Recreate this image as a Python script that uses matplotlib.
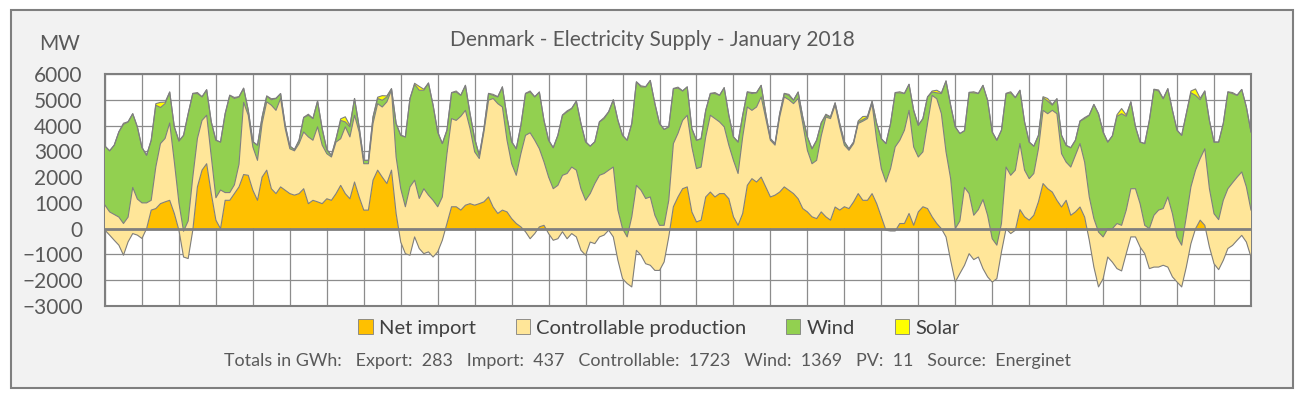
import numpy as np
import matplotlib
matplotlib.use("Agg")
import matplotlib.pyplot as plt
from matplotlib.patches import Rectangle, Patch

plt.rcParams['font.family'] = ['Lato', 'DejaVu Sans']

# 3-hourly samples, 1 Jan 2018 00:00 .. 1 Feb 2018 00:00, MW
hours = np.arange(0, 745, 3)

net_import = [
    -60, -250, -450, -640, -1030, -510, -190, -250,        # 1
    -380, 0, 720, 780, 970, 1040, 1100, 590,                # 2
    -60, -1100, -1160, -60, 1620, 2270, 2520, 1360,         # 3
    330, 0, 1100, 1100, 1360, 1620, 2100, 2070,             # 4
    1490, 1100, 2000, 2270, 1550, 1360, 1620, 1490,         # 5
    1360, 1300, 1360, 1550, 970, 1100, 1040, 970,           # 6
    1160, 1100, 1360, 1680, 1360, 1160, 1810, 1230,         # 7
    720, 720, 1880, 2270, 2000, 1750, 2270, 590,            # 8
    -520, -970, -1030, -320, -770, -970, -900, -1100,       # 9
    -900, -450, 200, 850, 850, 720, 910, 970,               # 10
    910, 970, 1040, 1230, 840, 590, 720, 650,               # 11
    390, 200, 70, -120, -390, -190, 70, 130,                # 12
    -190, -450, -390, -120, -390, -190, -320, -840,         # 13
    -1030, -520, -580, -320, -250, -60, -320, -1230,        # 14
    -1940, -2130, -2260, -840, -1030, -1360, -1420, -1620,  # 15
    -1620, -1290, -320, 850, 1230, 1550, 1620, 650,         # 16
    260, 330, 1230, 1420, 1230, 1360, 1360, 1160,           # 17
    460, 130, 590, 1680, 1940, 1810, 2000, 1620,            # 18
    1230, 1300, 1420, 1620, 1490, 1360, 1160, 780,          # 19
    650, 460, 390, 650, 460, 330, 840, 720,                 # 20
    850, 780, 1040, 1360, 1100, 1100, 1360, 970,            # 21
    460, -60, -90, -90, 200, 200, 590, 130,                 # 22
    650, 850, 780, 460, 200, 0, -320, -1230,                # 23
    -2070, -1740, -1420, -970, -1200, -1100, -1550, -1870,  # 24
    -2070, -1940, -900, 0, -190, -60, 740, 460,             # 25
    330, 520, 1040, 1750, 1550, 1420, 1100, 840,            # 26
    1100, 520, 650, 840, 450, -450, -1490, -2260,           # 27
    -1940, -1100, -1300, -1550, -1640, -970, -320, -320,    # 28
    -710, -970, -1550, -1490, -1490, -1420, -1490, -1870,   # 29
    -2070, -2260, -1490, -580, 0, 330, 130, -710,           # 30
    -1360, -1590, -1230, -770, -650, -450, -260, -520,      # 31
    -1100,
]

controllable = [
    970, 900, 1000, 1090, 1230, 960, 1790, 1400,
    1380, 1000, 380, 1620, 2330, 2460, 3000, 2010,
    1060, 1000, 1460, 2060, 1880, 1930, 1880, 1440,
    870, 1500, 300, 300, 340, 880, 2800, 2330,
    1680, 1550, 2080, 2650, 3240, 3230, 3430, 2390,
    1740, 1720, 1940, 2200, 2590, 2330, 2910, 2270,
    1750, 1680, 2000, 1810, 2590, 2400, 2590, 2520,
    1800, 1800, 2200, 2580, 2720, 3170, 3100, 2190,
    2070, 1820, 2650, 2200, 1940, 2520, 2200, 2200,
    1750, 1680, 2710, 3420, 3350, 3640, 3680, 2910,
    2070, 1750, 2710, 3750, 4210, 4260, 4000, 2780,
    2130, 1870, 2840, 3740, 4110, 3620, 3030, 2460,
    2190, 2000, 2070, 2190, 2530, 2580, 2590, 2390,
    2130, 1880, 2330, 2390, 2390, 2330, 2710, 1950,
    1940, 1810, 2720, 2520, 2520, 2530, 2650, 2140,
    1750, 1420, 1420, 2450, 2470, 2650, 2780, 2520,
    2070, 2060, 2330, 2980, 3040, 2780, 2590, 2080,
    2190, 2010, 2970, 3040, 2650, 2910, 3110, 2650,
    2200, 1940, 2910, 3490, 3510, 3490, 3890, 3300,
    2390, 2060, 2260, 2950, 3870, 3940, 3950, 3230,
    2390, 2260, 2260, 2720, 3070, 3170, 3490, 2460,
    1870, 1870, 2420, 3260, 3230, 3620, 4000, 3040,
    2130, 2130, 3300, 4710, 4840, 4460, 3300, 3170,
    2070, 2040, 3020, 2330, 1720, 1840, 2680, 2390,
    1680, 1300, 1100, 2390, 2260, 2330, 2560, 1810,
    1610, 1620, 2060, 2840, 2910, 3170, 3360, 2070,
    1480, 1870, 2190, 2460, 2130, 1680, 1880, 2130,
    1620, 1100, 1300, 1750, 1770, 1690, 1870, 1870,
    1680, 1100, 1550, 2010, 2210, 2200, 2720, 2450,
    1750, 1620, 1950, 2200, 2270, 2390, 2970, 2260,
    1940, 1940, 2330, 2320, 2430, 2450, 2460, 2140,
    1820,
]

wind = [
    2290, 2370, 2690, 3300, 3850, 3690, 2860, 2800,
    2150, 1850, 2330, 2390, 1400, 1350, 1200, 1350,
    2400, 3720, 4160, 3240, 1740, 910, 990, 1340,
    2230, 1860, 3060, 3770, 3350, 2610, 550, 200,
    200, 590, 250, 220, 210, 460, 190, 130,
    100, 50, 130, 560, 840, 840, 1000, 640,
    160, 60, 130, 710, 190, 390, 650, 200,
    130, 130, 250, 200, 260, 190, 60, 1300,
    2070, 2710, 3430, 3720, 4200, 3820, 4350, 3690,
    2900, 2070, 910, 1000, 1100, 810, 970, 580,
    510, 120, 130, 260, 120, 260, 780, 900,
    850, 1030, 1100, 1620, 1580, 1680, 2200, 1610,
    1430, 1590, 1940, 2330, 2390, 2270, 2680, 2530,
    2270, 1840, 1620, 2070, 2130, 2260, 2610, 3480,
    3620, 3750, 3620, 4010, 4010, 4330, 4520, 4330,
    3950, 3720, 2850, 2130, 1750, 1140, 1100, 710,
    1100, 1100, 1030, 840, 970, 1030, 1520, 1160,
    910, 1220, 840, 580, 650, 550, 450, 190,
    60, 60, 130, 130, 170, 130, 250, 250,
    520, 580, 780, 500, 70, 60, 90, 130,
    130, 60, 60, 60, 60, 60, 90, 650,
    1160, 1490, 1750, 2100, 1840, 1420, 1010, 1420,
    1230, 1290, 1030, 130, 230, 780, 2750, 2850,
    3950, 3390, 2200, 3920, 4750, 4500, 4430, 4460,
    4140, 4070, 3620, 2850, 3200, 2810, 2070, 1870,
    1420, 1060, 520, 490, 490, 200, 580, 710,
    650, 750, 590, 870, 1690, 3170, 4430, 4590,
    4070, 3360, 3600, 4160, 4330, 3640, 3370, 2400,
    2390, 3170, 4200, 4880, 4620, 4260, 4200, 4010,
    4140, 4260, 4000, 3650, 2900, 2280, 2240, 2650,
    2780, 3010, 2980, 3750, 3460, 3170, 3200, 3100,
    3030,
]

solar = [
    0, 0, 0, 10, 40, 10, 0, 0,
    0, 0, 0, 60, 200, 60, 0, 0,
    0, 0, 0, 10, 40, 10, 0, 0,
    0, 0, 0, 10, 40, 10, 0, 0,
    0, 0, 0, 10, 40, 10, 0, 0,
    0, 0, 0, 10, 40, 10, 0, 0,
    0, 0, 0, 60, 200, 50, 0, 0,
    0, 0, 0, 50, 180, 40, 0, 0,
    0, 0, 0, 40, 150, 40, 0, 0,
    0, 0, 0, 10, 40, 10, 0, 0,
    0, 0, 0, 10, 40, 10, 0, 0,
    0, 0, 0, 10, 40, 10, 0, 0,
    0, 0, 0, 10, 40, 10, 0, 0,
    0, 0, 0, 10, 40, 10, 0, 0,
    0, 0, 0, 10, 40, 10, 0, 0,
    0, 0, 0, 10, 40, 10, 0, 0,
    0, 0, 0, 10, 40, 10, 0, 0,
    0, 0, 0, 10, 40, 10, 0, 0,
    0, 0, 0, 10, 40, 10, 0, 0,
    0, 0, 0, 10, 40, 10, 0, 0,
    0, 0, 0, 40, 120, 30, 0, 0,
    0, 0, 0, 10, 40, 10, 0, 0,
    0, 0, 0, 40, 100, 30, 0, 0,
    0, 0, 0, 10, 40, 10, 0, 0,
    0, 0, 0, 10, 40, 10, 0, 0,
    0, 0, 0, 40, 100, 30, 0, 0,
    0, 0, 0, 10, 40, 10, 0, 0,
    0, 0, 0, 60, 200, 50, 0, 0,
    0, 0, 0, 10, 40, 10, 0, 0,
    0, 0, 0, 70, 250, 60, 0, 0,
    0, 0, 0, 10, 40, 10, 0, 0,
    0,
]

series_names = ["Net import", "Controllable production", "Wind", "Solar"]
series_colors = ["#FFC000", "#FFE699", "#92D050", "#FFFF00"]
footer = ("Totals in GWh:   Export:  283   Import:  437   Controllable:  1723   "
          "Wind:  1369   PV:  11   Source:  Energinet")

TEXT = "#595959"
EDGE = "#7F7F7F"
W, H = 1306, 398

fig = plt.figure(figsize=(W / 100, H / 100), dpi=100)
fig.patch.set_facecolor("white")
fig.patches.append(Rectangle((11 / W, 1 - 388 / H), 1282 / W, 378 / H,
                             transform=fig.transFigure, facecolor="#F2F2F2",
                             edgecolor=EDGE, linewidth=1.5, zorder=-10))

ax = fig.add_axes([105 / W, 1 - 306 / H, 1146 / W, 232 / H])
ax.set_zorder(1)
ax.set_facecolor("white")

# Excel-style stacking: each area runs from the previous running total
level0 = np.zeros(len(hours))
level1 = np.array(net_import, dtype=float)
level2 = level1 + np.array(controllable)
level3 = level2 + np.array(wind)
level4 = level3 + np.array(solar)
bounds = [(level0, level1), (level1, level2), (level2, level3), (level3, level4)]

for i, (lo, hi) in enumerate(bounds):
    ax.fill_between(hours, lo, hi, facecolor=series_colors[i], linewidth=0, zorder=2 + i)
for lv in (level1, level2, level3, level4):
    ax.plot(hours, lv, color=EDGE, linewidth=0.8, zorder=7)

ax.axhline(0, color=EDGE, linewidth=2, zorder=8)

ax.set_xlim(0, 744)
ax.set_ylim(-3000, 6000)
ax.set_xticks(np.arange(0, 745, 24))
ax.set_xticklabels([])
ax.set_yticks(np.arange(-3000, 6001, 1000))
ax.tick_params(axis="both", length=0)
ax.tick_params(axis="y", labelsize=15, labelcolor=TEXT, pad=16)
ax.grid(True, color="#8C8C8C", linewidth=0.9)
ax.set_axisbelow(True)
for sp in ax.spines.values():
    sp.set_color(EDGE)
    sp.set_linewidth(1.5)

fig.text(60 / W, 1 - 44 / H, "MW", ha="center", va="center", fontsize=15, color=TEXT)
fig.text(652 / W, 1 - 40 / H, "Denmark - Electricity Supply - January 2018",
         ha="center", va="center", fontsize=15, color=TEXT)

handles = [Patch(facecolor=c, edgecolor=EDGE, linewidth=0.6) for c in series_colors]
fig.legend(handles, series_names, ncol=4, loc="center", bbox_to_anchor=(659 / W, 1 - 328 / H),
           frameon=False, fontsize=14.5, labelcolor="#404040", handlelength=0.7,
           handleheight=0.7, handletextpad=0.3, columnspacing=2.0)

fig.text(647 / W, 1 - 361 / H, footer, ha="center", va="center", fontsize=12.9, color=TEXT)

fig.savefig("out.png", dpi=100)
